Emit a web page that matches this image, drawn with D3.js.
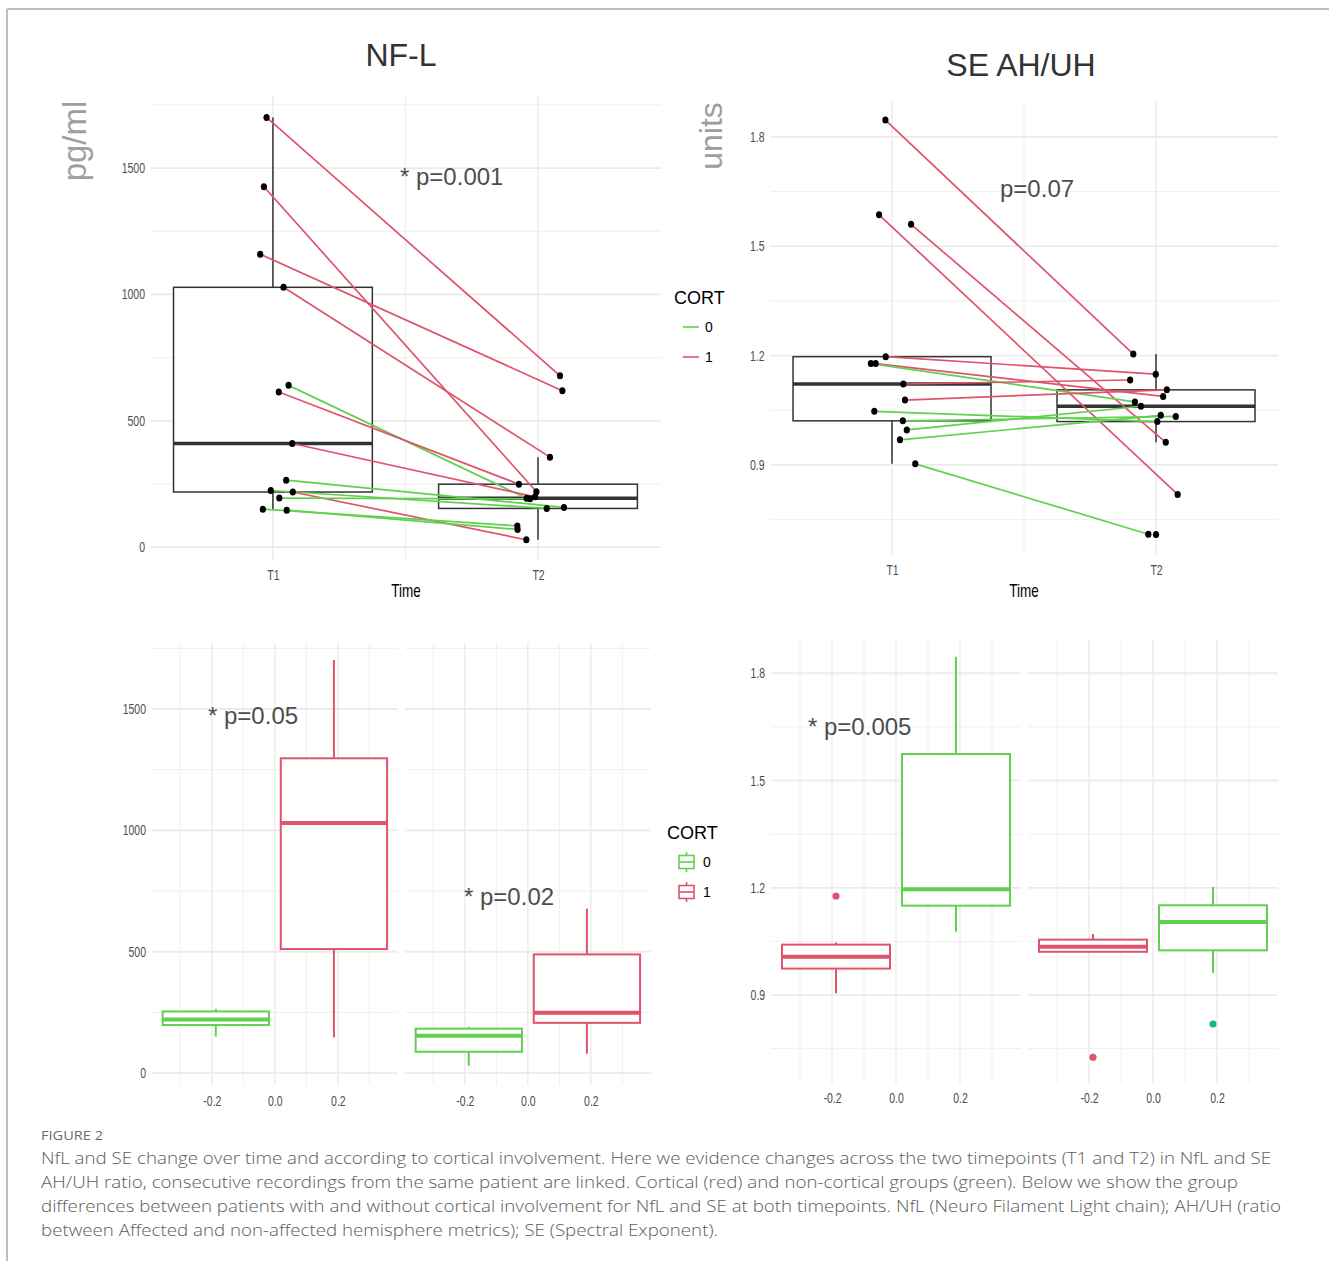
<!DOCTYPE html>
<html><head><meta charset="utf-8">
<script src="https://cdn.jsdelivr.net/npm/d3@7"></script>
<style>body{margin:0;background:#fff}svg{display:block}</style>
</head><body><svg id="c" width="1329" height="1261"></svg>
<script>
// ---------------- DATA ----------------
const timeLabels = ["T1", "T2"];
const cortLabels = ["0", "1"];
// NF-L per patient (pg/ml), T1 -> T2, CORT group, horizontal jitter (category units)
const nflT1 = [1700, 1426, 1159, 1028, 640, 614, 410, 265, 224, 218, 194, 150, 146];
const nflT2 = [678, 219, 619, 356, 193, 249, 199, 157, 153, 29, 191, 84, 70];
const nflCort = [1, 1, 1, 1, 0, 1, 1, 0, 0, 1, 0, 0, 0];
const nflJitT1 = [-0.024, -0.034, -0.048, 0.040, 0.059, 0.022, 0.073, 0.050, -0.008, 0.075, 0.024, -0.038, 0.052];
const nflJitT2 = [0.083, -0.006, 0.092, 0.045, -0.043, -0.072, -0.011, 0.098, 0.033, -0.044, -0.030, -0.078, -0.077];
// SE AH/UH per patient
const seT1 = [1.846, 1.586, 1.56, 1.197, 1.178, 1.178, 1.122, 1.078, 1.047, 1.021, 0.996, 0.969, 0.903];
const seT2 = [1.204, 0.819, 0.962, 1.149, 1.088, 1.073, 1.133, 1.106, 1.019, 1.033, 1.061, 1.036, 0.71];
const seCort = [1, 1, 1, 1, 1, 0, 1, 1, 0, 0, 0, 0, 0];
const seJitT1 = [-0.025, -0.049, 0.072, -0.024, -0.062, -0.080, 0.043, 0.049, -0.067, 0.041, 0.056, 0.030, 0.088];
const seJitT2 = [-0.086, 0.082, 0.037, -0.001, 0.027, -0.080, -0.098, 0.041, 0.005, 0.075, -0.057, 0.018, -0.029];
const seT2Unpaired = [0.709];
// Group boxplots [lower whisker, Q1, median, Q3, upper whisker]
const nflBoxT1Cort0 = [150, 198, 221, 254, 265];
const nflBoxT1Cort1 = [147, 511, 1030, 1297, 1702];
const nflBoxT2Cort0 = [30, 88, 154, 183, 191];
const nflBoxT2Cort1 = [80, 207, 249, 489, 677];
const seBoxT1Left = [0.905, 0.974, 1.007, 1.041, 1.047];
const seBoxT1Right = [1.077, 1.150, 1.196, 1.574, 1.846];
const seBoxT2Left = [1.02, 1.021, 1.035, 1.055, 1.071];
const seBoxT2Right = [0.962, 1.025, 1.104, 1.151, 1.202];
const seOutT1Left = [1.177];
const seOutT2Left = [0.726];
const seOutT2Right = [0.819];
// tick values
const nflTicks = [0, 500, 1000, 1500];
const nflMinor = [250, 750, 1250, 1750];
const seTicks = [0.9, 1.2, 1.5, 1.8];
const seMinor = [0.75, 1.05, 1.35, 1.65];
const dodgeTicks = [-0.2, 0, 0.2];
const dodgeMinor = [-0.3, -0.1, 0.1, 0.3];
const pLabels = ["* p=0.001", "p=0.07", "* p=0.05", "* p=0.02", "* p=0.005"];

// ---------------- STYLE ----------------
const RED = "#DF536B", GREEN = "#61D04F", TEAL = "#1BB585";
const FONT = '"Liberation Sans", Arial, Helvetica, sans-serif';
const svg = d3.select("#c");

svg.append("line").attr("x1", 7).attr("x2", 1329).attr("y1", 9).attr("y2", 9).attr("stroke", "#aaa").attr("stroke-width", 1.5);
svg.append("line").attr("x1", 7).attr("x2", 7).attr("y1", 9).attr("y2", 1261).attr("stroke", "#aaa").attr("stroke-width", 1.5);

function grid(g, x, y, xMaj, xMin, yMaj, yMin) {
  const [x0, x1] = x.range(), [yb, yt] = y.range();
  const hl = (v, w, c) => g.append("line").attr("x1", x0).attr("x2", x1).attr("y1", y(v)).attr("y2", y(v)).attr("stroke", c).attr("stroke-width", w);
  const vl = (v, w, c) => g.append("line").attr("y1", yt).attr("y2", yb).attr("x1", x(v)).attr("x2", x(v)).attr("stroke", c).attr("stroke-width", w);
  yMin.forEach(v => hl(v, 1, "#efefef"));
  xMin.forEach(v => vl(v, 1, "#efefef"));
  yMaj.forEach(v => hl(v, 1.8, "#ebebeb"));
  xMaj.forEach(v => vl(v, 1.4, "#ebebeb"));
}
function styleTicks(ag) {
  ag.select(".domain").remove();
  ag.attr("font-family", FONT);
  ag.selectAll("text").attr("font-size", 14).attr("fill", "#4d4d4d").attr("transform", "scale(0.75,1)");
}
function yAxis(g, y, x0, vals, fmt) {
  const ag = g.append("g").attr("transform", `translate(${x0},0)`)
    .call(d3.axisLeft(y).tickValues(vals).tickSize(0).tickPadding(8).tickFormat(fmt));
  styleTicks(ag);
}
function xAxis(g, x, yBase, vals, fmt) {
  const ag = g.append("g").attr("transform", `translate(0,${yBase})`)
    .call(d3.axisBottom(x).tickValues(vals).tickSize(0).tickFormat(fmt));
  styleTicks(ag);
  ag.selectAll("text").attr("y", 0).attr("dy", null);
}
function txt(x, y, s, size, fill, anchor, extra) {
  const t = svg.append("text").attr("x", x).attr("y", y).text(s).attr("font-family", FONT)
    .attr("font-size", size).attr("fill", fill).attr("text-anchor", anchor || "start");
  if (extra) extra(t);
  return t;
}
function condensed(x, y, s, size, fill, anchor) {
  return svg.append("text").attr("transform", `translate(${x},${y}) scale(0.75,1)`).text(s)
    .attr("font-family", FONT).attr("font-size", size).attr("fill", fill).attr("text-anchor", anchor || "middle");
}
function statsOf(arr) {
  const s = arr.slice().sort(d3.ascending);
  const q1 = d3.quantile(s, 0.25), med = d3.quantile(s, 0.5), q3 = d3.quantile(s, 0.75);
  const iqr = q3 - q1;
  const lo = d3.min(s.filter(v => v >= q1 - 1.5 * iqr)), hi = d3.max(s.filter(v => v <= q3 + 1.5 * iqr));
  return [lo, q1, med, q3, hi];
}
function box(g, x, y, cx, w, st, color, lw, mw) {
  const xl = x(cx - w / 2), xr = x(cx + w / 2), xc = x(cx);
  g.append("line").attr("x1", xc).attr("x2", xc).attr("y1", y(st[3])).attr("y2", y(st[4])).attr("stroke", color).attr("stroke-width", lw);
  g.append("line").attr("x1", xc).attr("x2", xc).attr("y1", y(st[1])).attr("y2", y(st[0])).attr("stroke", color).attr("stroke-width", lw);
  g.append("rect").attr("x", xl).attr("width", xr - xl).attr("y", y(st[3])).attr("height", y(st[1]) - y(st[3]))
    .attr("fill", "#fff").attr("stroke", color).attr("stroke-width", lw);
  g.append("line").attr("x1", xl).attr("x2", xr).attr("y1", y(st[2])).attr("y2", y(st[2])).attr("stroke", color).attr("stroke-width", mw);
}

// ---------------- TOP PANELS ----------------
function pairedPanel(opt) {
  const g = svg.append("g");
  const x = d3.scaleLinear().domain([0.54, 2.464]).range(opt.xr);
  const y = d3.scaleLinear().domain(opt.yd).range(opt.yr);
  grid(g, x, y, [1, 2], [1.5], opt.ticks, opt.minor);
  yAxis(g, y, opt.xr[0], opt.ticks, opt.fmt);
  xAxis(g, x, opt.xLabY, [1, 2], d => timeLabels[d - 1]);
  box(g, x, y, 1, 0.75, statsOf(opt.t1), "#333", 1.5, 3.5);
  box(g, x, y, 2, 0.75, statsOf(opt.t2), "#333", 1.5, 3.5);
  opt.t1.forEach((v, i) => {
    g.append("line").attr("x1", x(1 + opt.j1[i])).attr("y1", y(v)).attr("x2", x(2 + opt.j2[i])).attr("y2", y(opt.t2[i]))
      .attr("stroke", opt.cort[i] ? RED : GREEN).attr("stroke-width", 1.7);
  });
  const pts = opt.t1.map((v, i) => [1 + opt.j1[i], v]).concat(opt.t2.map((v, i) => [2 + opt.j2[i], v]))
    .concat((opt.extra || []).map(v => [2, v]));
  g.selectAll(null).data(pts).enter().append("ellipse").attr("cx", d => x(d[0])).attr("cy", d => y(d[1]))
    .attr("rx", 3.1).attr("ry", 3.5).attr("fill", "#000");
  return { x, y };
}

pairedPanel({ xr: [151, 661], yd: [-51, 1785], yr: [560, 96], ticks: nflTicks, minor: nflMinor, fmt: d => String(d),
  xLabY: 580, t1: nflT1, t2: nflT2, cort: nflCort, j1: nflJitT1, j2: nflJitT2 });
pairedPanel({ xr: [770.6, 1278.5], yd: [0.653, 1.901], yr: [555, 100], ticks: seTicks, minor: seMinor, fmt: d => d.toFixed(1),
  xLabY: 575, t1: seT1, t2: seT2, cort: seCort, j1: seJitT1, j2: seJitT2, extra: seT2Unpaired });

txt(401, 66, "NF-L", 32, "#333", "middle");
txt(1021, 76, "SE AH/UH", 32, "#333", "middle");
txt(0, 0, "pg/ml", 33, "#9e9e9e", "middle", t => t.attr("transform", "translate(86,141) rotate(-90)").attr("x", null).attr("y", null));
txt(0, 0, "units", 32, "#9e9e9e", "middle", t => t.attr("transform", "translate(722,136) rotate(-90)").attr("x", null).attr("y", null));
condensed(406, 597, "Time", 18, "#000");
condensed(1024, 597, "Time", 18, "#000");
txt(400, 185, pLabels[0], 24, "#4d4d4d");
txt(1000, 197, pLabels[1], 24, "#4d4d4d");

// top legend
txt(674, 304, "CORT", 18, "#000");
[GREEN, RED].forEach((c, i) => {
  svg.append("line").attr("x1", 683).attr("x2", 699).attr("y1", 327 + 30 * i).attr("y2", 327 + 30 * i).attr("stroke", c).attr("stroke-width", 1.6);
  txt(705, 332 + 30 * i, cortLabels[i], 14, "#000");
});

// ---------------- BOTTOM PANELS ----------------
function facet(opt) {
  const g = svg.append("g");
  const x = d3.scaleLinear().domain([-0.39, 0.39]).range(opt.xr);
  const y = d3.scaleLinear().domain(opt.yd).range(opt.yr);
  grid(g, x, y, dodgeTicks, dodgeMinor, opt.ticks, opt.minor);
  if (opt.showY) yAxis(g, y, opt.xr[0], opt.ticks, opt.fmt);
  xAxis(g, x, opt.xLabY, dodgeTicks, d => d.toFixed(1));
  opt.boxes.forEach(b => {
    box(g, x, y, b.cx, 0.3375, b.st, b.color, 2, 4);
    (b.out || []).forEach(v => g.append("circle").attr("cx", x(b.cx)).attr("cy", y(v)).attr("r", 3.6).attr("fill", b.outColor || b.color));
  });
}
const bl = { yd: [-49, 1772], yr: [1085, 643], ticks: nflTicks, minor: nflMinor, fmt: d => String(d), xLabY: 1106 };
facet(Object.assign({}, bl, { xr: [152, 397.7], showY: true, boxes: [
  { cx: -0.1875, st: nflBoxT1Cort0, color: GREEN }, { cx: 0.1875, st: nflBoxT1Cort1, color: RED }] }));
facet(Object.assign({}, bl, { xr: [405, 650.7], showY: false, boxes: [
  { cx: -0.1875, st: nflBoxT2Cort0, color: GREEN }, { cx: 0.1875, st: nflBoxT2Cort1, color: RED }] }));
const br = { yd: [0.654, 1.893], yr: [1083, 640], ticks: seTicks, minor: seMinor, fmt: d => d.toFixed(1), xLabY: 1103 };
facet(Object.assign({}, br, { xr: [771.2, 1020.8], showY: true, boxes: [
  { cx: -0.1875, st: seBoxT1Left, color: RED, out: seOutT1Left }, { cx: 0.1875, st: seBoxT1Right, color: GREEN }] }));
facet(Object.assign({}, br, { xr: [1028.2, 1277.8], showY: false, boxes: [
  { cx: -0.1875, st: seBoxT2Left, color: RED, out: seOutT2Left }, { cx: 0.1875, st: seBoxT2Right, color: GREEN, out: seOutT2Right, outColor: TEAL }] }));

txt(208, 724, pLabels[2], 24, "#4d4d4d");
txt(464, 905, pLabels[3], 24, "#4d4d4d");
txt(808, 735, pLabels[4], 24, "#4d4d4d");

// bottom legend
txt(667, 839, "CORT", 18, "#000");
[GREEN, RED].forEach((c, i) => {
  const yc = 862 + 30 * i;
  svg.append("line").attr("x1", 686.5).attr("x2", 686.5).attr("y1", yc - 10).attr("y2", yc + 10).attr("stroke", c).attr("stroke-width", 1.6);
  svg.append("rect").attr("x", 679).attr("y", yc - 6.5).attr("width", 15).attr("height", 13).attr("fill", "#fff").attr("stroke", c).attr("stroke-width", 1.6);
  svg.append("line").attr("x1", 679).attr("x2", 694).attr("y1", yc).attr("y2", yc).attr("stroke", c).attr("stroke-width", 1.6);
  txt(703, yc + 5, cortLabels[i], 14, "#000");
});

// ---------------- CAPTION ----------------
const CAP = '"Open Sans", "Noto Sans", sans-serif';
svg.append("text").attr("x", 41).attr("y", 1140).text("FIGURE 2").attr("font-family", CAP).attr("font-size", 13)
  .attr("fill", "#6a6a6a").attr("textLength", 62).attr("lengthAdjust", "spacingAndGlyphs");
const capLines = [
  ["NfL and SE change over time and according to cortical involvement. Here we evidence changes across the two timepoints (T1 and T2) in NfL and SE", 1230],
  ["AH/UH ratio, consecutive recordings from the same patient are linked. Cortical (red) and non-cortical groups (green). Below we show the group", 1197],
  ["differences between patients with and without cortical involvement for NfL and SE at both timepoints. NfL (Neuro Filament Light chain); AH/UH (ratio", 1240],
  ["between Affected and non-affected hemisphere metrics); SE (Spectral Exponent).", 677]
];
capLines.forEach((l, i) => {
  svg.append("text").attr("x", 41).attr("y", 1164 + 24 * i).text(l[0]).attr("font-family", CAP).attr("font-size", 17)
    .attr("font-weight", 300).attr("fill", "#5c5c5c").attr("textLength", l[1]).attr("lengthAdjust", "spacingAndGlyphs");
});
</script></body></html>
